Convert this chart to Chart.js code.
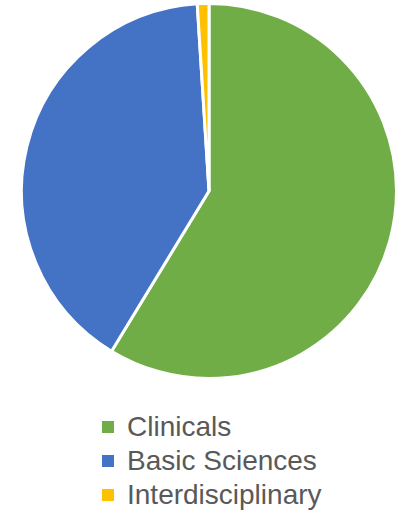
<!DOCTYPE html>
<html>
<head>
<meta charset="utf-8">
<script src="https://cdn.jsdelivr.net/npm/chart.js@4/dist/chart.umd.min.js"></script>
<style>
  html, body { margin:0; padding:0; background:#fff; }
  #wrap { position:relative; width:409px; height:512px; overflow:hidden; }
  #box { position:absolute; left:0; top:0; width:409px; height:385px; }
  #legenda { position:absolute; left:102px; top:410px; font-family:"Liberation Sans", Arial, sans-serif; font-size:28px; color:#595959; }
  .leg-item { display:flex; align-items:center; height:34px; white-space:nowrap; }
  .leg-box { width:12px; height:12px; margin-right:13px; flex:none; }
</style>
</head>
<body>
<div id="wrap">
  <div id="box"><canvas id="pie"></canvas></div>
  <div id="legenda"></div>
</div>
<script>
/* dados (percentuais aproximados) */
const CATEGORIAS = ["Clinicals", "Basic Sciences", "Interdisciplinary"];
const VALORES = [58.7, 40.3, 1.0];
const CORES = ["#70AD47", "#4472C4", "#FFC000"];

const pieChart = new Chart(document.getElementById("pie").getContext("2d"), {
  type: "pie",
  data: {
    labels: CATEGORIAS,
    datasets: [{ data: VALORES, backgroundColor: CORES, borderColor: "#ffffff", borderWidth: 3 }]
  },
  options: {
    responsive: true,
    maintainAspectRatio: false,
    animation: false,
    layout: { padding: { left: 20, right: 11, top: 2, bottom: 5 } },
    plugins: { legend: { display: false }, tooltip: { enabled: false } }
  }
});

/* LEGENDA */
document.getElementById("legenda").innerHTML = CATEGORIAS.map((c, i) =>
  `<div class="leg-item"><span class="leg-box" style="background:${CORES[i]}"></span>${c}</div>`
).join("");
</script>
</body>
</html>
